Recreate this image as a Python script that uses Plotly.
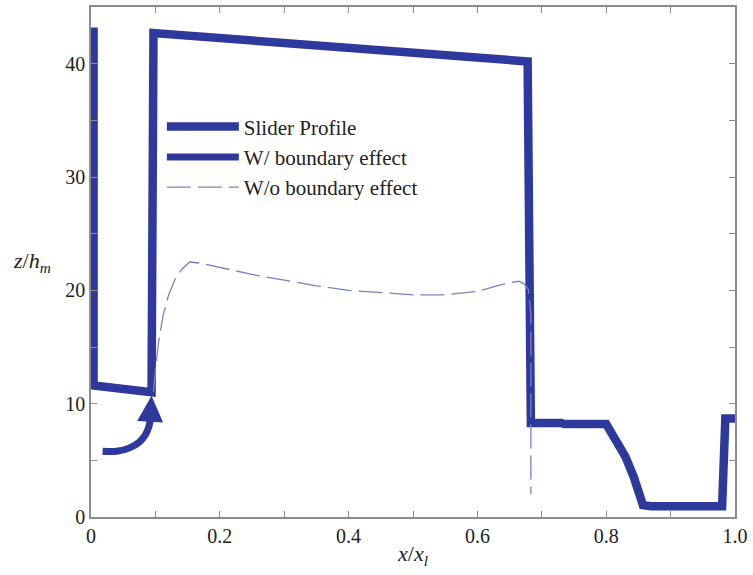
import plotly.graph_objects as go

# Slider profile (thick outline)
profile_x = [0.004, 0.004, 0.094, 0.097, 0.678, 0.683, 0.73, 0.735, 0.80, 0.81, 0.83, 0.843, 0.851, 0.857, 0.87, 0.98, 0.985, 0.99, 1.0]
profile_y = [43.2, 11.6, 11.0, 42.7, 40.2, 8.3, 8.3, 8.2, 8.2, 7.3, 5.3, 3.5, 1.8, 1.05, 0.95, 0.95, 8.7, 8.7, 8.7]

# W/ boundary effect (thick curve with arrow)
wb_x = [0.018, 0.04, 0.06, 0.075, 0.085, 0.090, 0.092]
wb_y = [5.8, 5.8, 6.1, 6.6, 7.3, 8.0, 8.6]
arrow_tip = (0.094, 10.7)

# W/o boundary effect (thin dashed)
wo_x = [0.097, 0.100, 0.105, 0.112, 0.12, 0.13, 0.14, 0.153, 0.17, 0.20, 0.25, 0.30, 0.35, 0.40, 0.45, 0.50, 0.55, 0.60, 0.643, 0.664, 0.672, 0.679, 0.683, 0.683]
wo_y = [11.0, 13.0, 15.5, 17.8, 19.5, 20.9, 21.8, 22.5, 22.4, 22.0, 21.4, 20.9, 20.4, 20.0, 19.8, 19.6, 19.6, 19.9, 20.6, 20.8, 20.6, 20.1, 18.0, 2.0]

x_ticks = [0, 0.2, 0.4, 0.6, 0.8, 1.0]
x_labels = ["0", "0.2", "0.4", "0.6", "0.8", "1.0"]
y_ticks = [0, 10, 20, 30, 40]
y_labels = ["0", "10", "20", "30", "40"]

dark = "#2f399d"
light = "#7a80c2"
font_fam = "Liberation Serif"

fig = go.Figure()
fig.add_trace(go.Scatter(x=profile_x, y=profile_y, mode="lines", name="Slider Profile",
                         line=dict(color=dark, width=8.5)))
fig.add_trace(go.Scatter(x=wb_x, y=wb_y, mode="lines", name="W/ boundary effect",
                         line=dict(color=dark, width=7, shape="spline")))
fig.add_trace(go.Scatter(x=wo_x, y=wo_y, mode="lines", name="W/o boundary effect",
                         line=dict(color=light, width=1.3, dash="24px,7px")))

fig.add_annotation(x=arrow_tip[0], y=arrow_tip[1], ax=wb_x[-1], ay=wb_y[-1],
                   xref="x", yref="y", axref="x", ayref="y", text="",
                   showarrow=True, arrowhead=2, arrowsize=1.3, arrowwidth=4, arrowcolor=dark)

fig.add_annotation(text="<i>z</i>/<i>h</i><sub><i>m</i></sub>", xref="paper", yref="paper",
                   x=-0.092, y=0.5, xanchor="center", yanchor="middle", showarrow=False,
                   font=dict(family=font_fam, size=22, color="#222"))

axis_common = dict(showgrid=False, zeroline=False, showline=True, linecolor="#8c8c8c", linewidth=1.5,
                   mirror="ticks", ticks="inside", ticklen=6, tickcolor="#8c8c8c", tickwidth=1.2,
                   tickfont=dict(family=font_fam, size=20, color="#222"))

fig.update_xaxes(range=[0, 1.0], tickvals=x_ticks, ticktext=x_labels,
                 minor=dict(dtick=0.1, ticks="inside", ticklen=6, tickcolor="#8c8c8c", tickwidth=1.2, showgrid=False),
                 title=dict(text="<i>x</i>/<i>x</i><sub><i>l</i></sub>", standoff=0,
                            font=dict(family=font_fam, size=22, color="#222")),
                 **axis_common)
fig.update_yaxes(range=[0, 45], tickvals=y_ticks, ticktext=y_labels,
                 minor=dict(dtick=5, ticks="inside", ticklen=6, tickcolor="#8c8c8c", tickwidth=1.2, showgrid=False),
                 **axis_common)

fig.update_layout(width=753, height=575, margin=dict(l=91, r=13, t=5, b=58),
                  paper_bgcolor="white", plot_bgcolor="white", font=dict(family=font_fam),
                  legend=dict(x=0.11, y=0.805, xanchor="left", yanchor="top", bgcolor="rgba(0,0,0,0)",
                              font=dict(family=font_fam, size=21, color="#222"), tracegroupgap=0,
                              itemwidth=72),
                  showlegend=True)

fig.write_html("out.html")
